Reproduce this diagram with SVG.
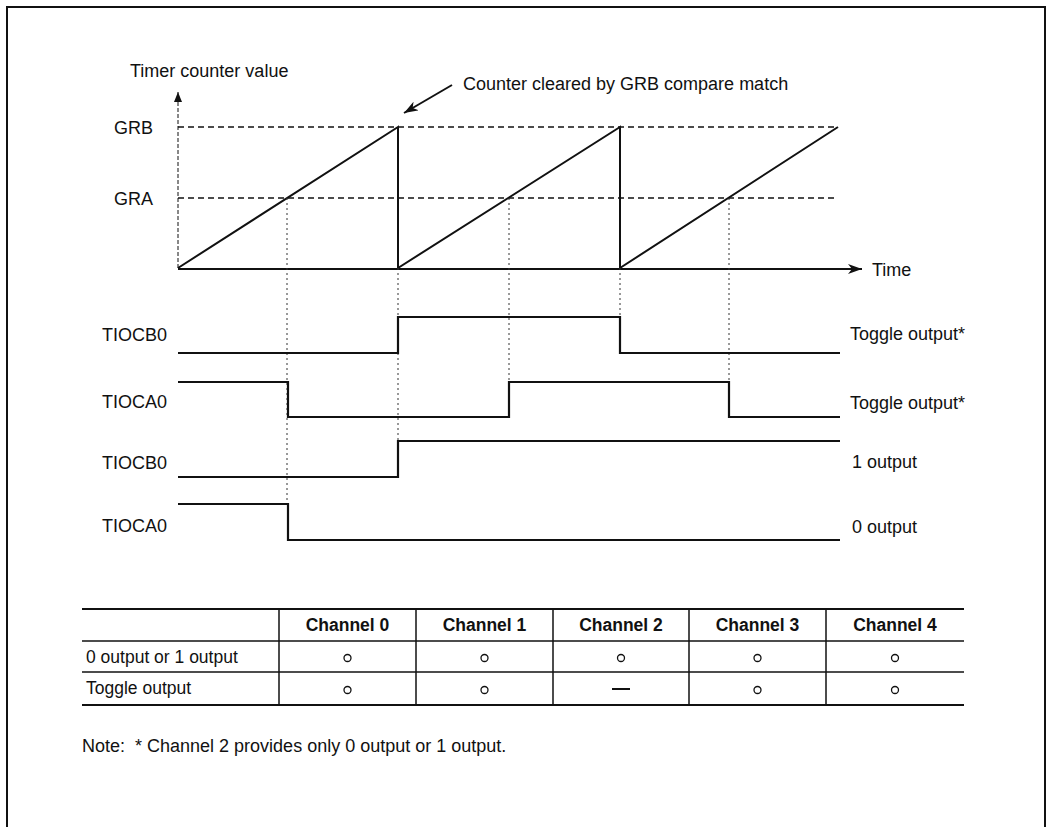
<svg xmlns="http://www.w3.org/2000/svg" width="1051" height="827" viewBox="0 0 1051 827">
<style>
  text { font-family: "Liberation Sans", Arial, sans-serif; font-size: 18px; fill: #111; }
  .hdr { font-weight: bold; font-size: 17.5px; text-anchor: middle; }
  .cell { font-size: 17.5px; }
  .frame { fill: none; stroke: #111; stroke-width: 2; }
  .dash { stroke: #111; stroke-width: 1.5; stroke-dasharray: 6 4; fill: none; }
  .dot { stroke: #333; stroke-width: 1; stroke-dasharray: 2 3; fill: none; }
  .saw { stroke: #111; stroke-width: 2; fill: none; stroke-linejoin: miter; }
  .wave { stroke: #111; stroke-width: 2.2; fill: none; stroke-linejoin: miter; }
  .tline { stroke: #111; stroke-width: 1.5; fill: none; }
  .tbold { stroke: #111; stroke-width: 2; fill: none; }
  .mark { fill: none; stroke: #111; stroke-width: 1.3; }
</style>
<defs>
  <marker id="ah" viewBox="0 0 14 10" refX="14" refY="5" markerWidth="14" markerHeight="10" markerUnits="userSpaceOnUse" orient="auto">
    <path d="M0,0 L14,5 L0,10 L4,5 Z" fill="#111"/>
  </marker>
  <marker id="ahs" viewBox="0 0 10 8" refX="10" refY="4" markerWidth="10" markerHeight="8" markerUnits="userSpaceOnUse" orient="auto">
    <path d="M0,0 L10,4 L0,8 Z" fill="#111"/>
  </marker>
</defs>

<rect width="1051" height="827" fill="#fff"/>
<path class="frame" d="M7,827 V7 H1045 V827"/>

<g id="axes">
  <line x1="178" y1="268" x2="178" y2="92" stroke="#111" stroke-width="1" stroke-dasharray="4 2" marker-end="url(#ahs)"/>
  <line x1="178" y1="269" x2="862" y2="269" stroke="#111" stroke-width="1.8" marker-end="url(#ah)"/>
  <text x="130" y="77">Timer counter value</text>
  <text x="872" y="276">Time</text>
</g>

<g id="levels">
  <line class="dash" x1="178" y1="127" x2="838" y2="127"/>
  <line class="dash" x1="178" y1="198" x2="838" y2="198"/>
  <text x="114" y="134">GRB</text>
  <text x="114" y="205">GRA</text>
</g>

<g id="counter">
  <polyline class="saw" points="178,268 398,127 398,268 620,127 620,268 838,127"/>
</g>

<g id="annotation">
  <line x1="452" y1="85" x2="404" y2="113" stroke="#111" stroke-width="2" marker-end="url(#ah)"/>
  <text x="463" y="90">Counter cleared by GRB compare match</text>
</g>

<g id="connectors">
  <line class="dot" x1="287" y1="198" x2="287" y2="504"/>
  <line class="dot" x1="398" y1="268" x2="398" y2="441"/>
  <line class="dot" x1="509" y1="198" x2="509" y2="382"/>
  <line class="dot" x1="620" y1="268" x2="620" y2="317"/>
  <line class="dot" x1="729" y1="198" x2="729" y2="382"/>
</g>

<g id="tiocb0-toggle">
  <polyline class="wave" points="178,353 398,353 398,317 620,317 620,353 840,353"/>
  <text x="102" y="341">TIOCB0</text>
  <text x="850" y="340">Toggle output*</text>
</g>
<g id="tioca0-toggle">
  <polyline class="wave" points="178,382 288,382 288,417 509,417 509,382 729,382 729,417 840,417"/>
  <text x="102" y="408">TIOCA0</text>
  <text x="850" y="409">Toggle output*</text>
</g>
<g id="tiocb0-one">
  <polyline class="wave" points="178,477 398,477 398,441 840,441"/>
  <text x="102" y="469">TIOCB0</text>
  <text x="852" y="468">1 output</text>
</g>
<g id="tioca0-zero">
  <polyline class="wave" points="178,504 288,504 288,540 840,540"/>
  <text x="102" y="532">TIOCA0</text>
  <text x="852" y="533">0 output</text>
</g>

<g id="table">
  <line class="tbold" x1="82" y1="609" x2="964" y2="609"/>
  <line class="tline" x1="82" y1="641" x2="964" y2="641"/>
  <line class="tline" x1="82" y1="672" x2="964" y2="672"/>
  <line class="tbold" x1="82" y1="705" x2="964" y2="705"/>
  <line class="tline" x1="279" y1="609" x2="279" y2="705"/>
  <line class="tline" x1="416" y1="609" x2="416" y2="705"/>
  <line class="tline" x1="553" y1="609" x2="553" y2="705"/>
  <line class="tline" x1="689" y1="609" x2="689" y2="705"/>
  <line class="tline" x1="826" y1="609" x2="826" y2="705"/>
  <text class="hdr" x="347.5" y="631">Channel 0</text>
  <text class="hdr" x="484.5" y="631">Channel 1</text>
  <text class="hdr" x="621" y="631">Channel 2</text>
  <text class="hdr" x="757.5" y="631">Channel 3</text>
  <text class="hdr" x="895" y="631">Channel 4</text>
  <text class="cell" x="86" y="663">0 output or 1 output</text>
  <text class="cell" x="86" y="694">Toggle output</text>
  <circle class="mark" cx="347.5" cy="658" r="3.5"/>
  <circle class="mark" cx="484.5" cy="658" r="3.5"/>
  <circle class="mark" cx="621" cy="658" r="3.5"/>
  <circle class="mark" cx="757.5" cy="658" r="3.5"/>
  <circle class="mark" cx="895" cy="658" r="3.5"/>
  <circle class="mark" cx="347.5" cy="690" r="3.5"/>
  <circle class="mark" cx="484.5" cy="690" r="3.5"/>
  <line x1="612" y1="689" x2="630" y2="689" stroke="#111" stroke-width="2"/>
  <circle class="mark" cx="757.5" cy="690" r="3.5"/>
  <circle class="mark" cx="895" cy="690" r="3.5"/>
</g>

<g id="note">
  <text x="82" y="752">Note:&#160; * Channel 2 provides only 0 output or 1 output.</text>
</g>
</svg>
